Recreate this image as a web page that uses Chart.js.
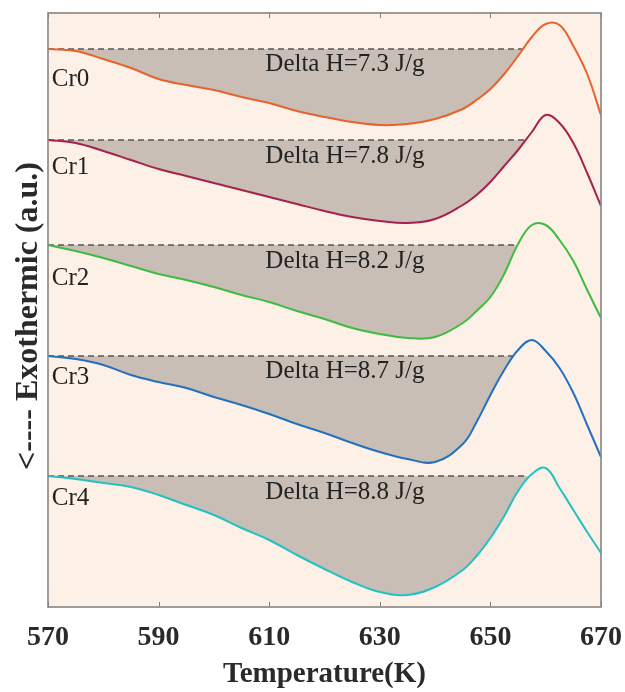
<!DOCTYPE html>
<html><head><meta charset="utf-8">
<script src="https://cdn.jsdelivr.net/npm/chart.js@4/dist/chart.umd.min.js"></script>
<style>html,body{margin:0;padding:0;background:#fff}</style>
</head><body>
<canvas id="c" width="625" height="692"></canvas>
<script>
// ---- data (heat flow in arbitrary units, curves offset) ----
const temperatures = [570,575,580,585,590,595,600,605,610,615,620,625,630,635,640,645,647.5,650,652.5,655,657.5,660,662.5,665,667.5,670];
const cr0 = [55.8,55.6,54.8,53.9,52.8,52.2,51.7,51.0,50.4,49.6,49.0,48.5,48.2,48.3,48.8,49.8,50.7,51.8,53.3,55.1,57.0,58.3,58.2,56.1,53.3,49.2];
const cr1 = [46.7,46.4,45.6,44.7,43.8,43.1,42.4,41.7,41.0,40.3,39.6,39.0,38.6,38.4,38.8,40.2,41.2,42.5,44.1,45.7,47.5,49.2,48.4,46.4,43.4,40.1];
const cr2 = [36.2,35.6,34.9,34.1,33.3,32.7,32.0,31.2,30.5,29.6,28.8,27.9,27.3,26.9,27.0,28.4,29.6,31.0,33.3,36.3,38.2,38.2,36.7,34.6,31.7,28.9];
const cr3 = [25.1,24.8,24.2,23.2,22.5,21.9,21.0,20.2,19.3,18.3,17.4,16.4,15.5,14.8,14.5,16.3,18.5,21.2,23.7,25.7,26.7,25.6,23.9,21.4,18.2,15.0];
const cr4 = [13.1,12.8,12.4,12.0,11.2,10.2,9.2,7.9,6.7,5.2,3.8,2.5,1.5,1.2,2.0,3.7,5.1,6.9,9.1,11.6,13.3,13.9,11.9,9.7,7.5,5.4];
const seriesNames = ['Cr0','Cr1','Cr2','Cr3','Cr4'];
const baselines = [55.8,46.7,36.2,25.1,13.1];
const fillEndT = [655.7,656.2,654.6,654.1,656.8];
const deltaH = ['Delta H=7.3 J/g','Delta H=7.8 J/g','Delta H=8.2 J/g','Delta H=8.7 J/g','Delta H=8.8 J/g'];
const nameLabelY = [52.1,43.3,32.2,22.3,10.2];
const deltaLabelY = [53.6,44.4,33.9,22.9,10.8];
const nameLabelT = 570.7;
const deltaLabelT = 609.3;
const xTicks = [570,590,610,630,650,670];
const colors = ['#e8622c','#a8204f','#3fbb3f','#2470c0','#22c2c2'];
const allSeries = [cr0,cr1,cr2,cr3,cr4];

const SERIF = "'Liberation Serif','Times New Roman',serif";
const FILL = '#c8beb6';
const TENSION = 0.4;

const datasets = [];
allSeries.forEach((s,i)=>{
  datasets.push({label:seriesNames[i], data: temperatures.map((t,k)=>({x:t,y:s[k]})),
    borderColor:colors[i], borderWidth:2, pointRadius:0, fill:false,
    tension:TENSION, order:0});
});
allSeries.forEach((s,i)=>{
  datasets.push({label:seriesNames[i]+' baseline', data:[{x:570,y:baselines[i]},{x:fillEndT[i],y:baselines[i]}],
    borderColor:'#555555', borderWidth:1.3, borderDash:[6,4], pointRadius:0, fill:false, tension:0, order:1});
});
allSeries.forEach((s,i)=>{
  const pts = temperatures.map((t,k)=>({x:t,y:s[k]})).filter(p=>p.x < fillEndT[i]);
  pts.push({x:fillEndT[i], y:baselines[i]});
  datasets.push({label:seriesNames[i]+' area', data:pts, borderWidth:0, borderColor:'rgba(0,0,0,0)',
    backgroundColor:FILL, pointRadius:0, fill:{value:baselines[i]},
    tension:TENSION, order:2});
});

const decor = {
  id:'decor',
  beforeDraw(chart){
    const {ctx, chartArea:a} = chart;
    ctx.save();
    ctx.fillStyle='#ffffff'; ctx.fillRect(0,0,chart.width,chart.height);
    ctx.fillStyle='#fdf0e6'; ctx.fillRect(a.left,a.top,a.right-a.left,a.bottom-a.top);
    ctx.restore();
  },
  afterDatasetsDraw(chart){
    const {ctx, chartArea:a, scales:{x,y}} = chart;
    ctx.save();
    ctx.fillStyle='#222'; ctx.textAlign='left'; ctx.textBaseline='alphabetic';
    ctx.font = "25px "+SERIF;
    seriesNames.forEach((n,i)=>{
      ctx.fillText(n, x.getPixelForValue(nameLabelT), y.getPixelForValue(nameLabelY[i]));
      ctx.fillText(deltaH[i], x.getPixelForValue(deltaLabelT), y.getPixelForValue(deltaLabelY[i]));
    });
    // ticks (inward, top and bottom)
    ctx.strokeStyle='#808080'; ctx.lineWidth=1;
    xTicks.forEach(t=>{
      const px = Math.round(x.getPixelForValue(t))+0.5;
      ctx.beginPath(); ctx.moveTo(px,a.bottom); ctx.lineTo(px,a.bottom-5); ctx.stroke();
      ctx.beginPath(); ctx.moveTo(px,a.top); ctx.lineTo(px,a.top+5); ctx.stroke();
    });
    // frame
    ctx.strokeStyle='#858585'; ctx.lineWidth=1.6;
    ctx.strokeRect(a.left,a.top,a.right-a.left,a.bottom-a.top);
    // y title
    ctx.translate(37, (a.top+a.bottom)/2 + 6);
    ctx.rotate(-Math.PI/2);
    ctx.textAlign='center'; ctx.textBaseline='alphabetic';
    ctx.font = "bold 32px "+SERIF; ctx.fillStyle='#2a2a2a';
    ctx.fillText('<---- Exothermic (a.u.)',0,0);
    ctx.restore();
  }
};

new Chart(document.getElementById('c'), {
  type:'line',
  data:{datasets},
  options:{
    responsive:false, animation:false, devicePixelRatio:1,
    layout:{padding:{left:48,right:24,top:13,bottom:0}},
    plugins:{legend:{display:false}, tooltip:{enabled:false}},
    scales:{
      x:{type:'linear', min:570, max:670,
        afterBuildTicks(s){ s.ticks = xTicks.map(v=>({value:v})); },
        grid:{display:false, drawTicks:false}, border:{display:false},
        ticks:{font:{family:SERIF,size:28,weight:'bold',lineHeight:2.2}, color:'#2a2a2a', padding:0, maxRotation:0, autoSkip:false},
        title:{display:true, text:'Temperature(K)', font:{family:SERIF,size:29,weight:'bold'}, color:'#2a2a2a', padding:{top:-11.4,bottom:0}}
      },
      y:{type:'linear', display:false, min:0, max:59.4}
    }
  },
  plugins:[decor]
});
</script>
</body></html>
